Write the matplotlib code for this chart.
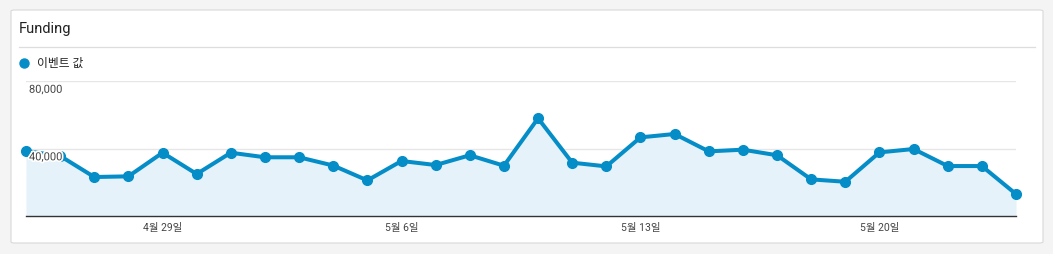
import matplotlib
matplotlib.use("Agg")
import matplotlib.pyplot as plt
import matplotlib.patheffects as pe
from matplotlib.patches import FancyBboxPatch
from matplotlib.lines import Line2D

plt.rcParams['font.family'] = ['Roboto', 'Noto Sans CJK KR', 'DejaVu Sans']

# ---- data ----
title = "Funding"
series_name = "이벤트 값"
values = [38500, 35600, 23100, 23500, 37500, 24900, 37500, 34800, 34800, 29900,
          21100, 32600, 30200, 36000, 29800, 57900, 31600, 29400, 46600, 48600,
          38300, 39300, 36000, 21700, 20300, 37700, 39700, 29600, 29600, 13000]
tick_positions = [4, 11, 18, 25]
tick_labels = ["4월 29일", "5월 6일", "5월 13일", "5월 20일"]
y_ticks = [40000, 80000]
y_tick_labels = ["40,000", "80,000"]

W, H = 1053, 254
fig = plt.figure(figsize=(W / 100, H / 100), dpi=100)
fig.patch.set_facecolor('#f4f4f4')

def fx(px): return px / W
def fy(py): return 1 - py / H

# card
card = FancyBboxPatch((fx(11), fy(243)), fx(1043) - fx(11), fy(10) - fy(243),
                      boxstyle="round,pad=0,rounding_size=0.004",
                      transform=fig.transFigure, facecolor='white',
                      edgecolor='#d9d9d9', linewidth=0.8, zorder=-10)
fig.patches.append(card)

fig.text(fx(19), fy(29), title, fontsize=10.5, color='#222222', va='center', ha='left')
fig.add_artist(Line2D([fx(19), fx(1035)], [fy(47), fy(47)], transform=fig.transFigure,
                      color='#dddddd', linewidth=0.9))
# legend
fig.add_artist(Line2D([fx(24)], [fy(63)], transform=fig.transFigure, marker='o',
                      markersize=6.5, color='#058dc7', linestyle='none'))
fig.text(fx(37), fy(63), series_name, fontsize=8.5, color='#222222', va='center', ha='left')

ax = fig.add_axes([fx(26), fy(216), fx(1016) - fx(26), fy(81) - fy(216)])
ax.set_zorder(5)
ax.set_facecolor('none')
x = list(range(len(values)))
ax.fill_between(x, values, 0, color='#e5f2f9', zorder=1, linewidth=0)
ax.plot(x, values, color='#058dc7', linewidth=2.9, marker='o', markersize=7,
        zorder=3, clip_on=False)
ax.set_xlim(0, len(values) - 1)
ax.set_ylim(0, 80000)

for yt in y_ticks:
    ax.axhline(yt, color='#e6e6e6', linewidth=1, zorder=0.5)
for yt, lab in zip(y_ticks, y_tick_labels):
    ax.text(0.003, yt - 5200, lab, transform=ax.get_yaxis_transform(),
            fontsize=8, color='#444444', ha='left', va='center', zorder=5,
            path_effects=[pe.withStroke(linewidth=2.5, foreground='white')])

for s in ['top', 'right', 'left']:
    ax.spines[s].set_visible(False)
ax.spines['bottom'].set_color('#333333')
ax.spines['bottom'].set_linewidth(1)
ax.set_yticks([])
ax.set_xticks(tick_positions)
ax.set_xticklabels(tick_labels, fontsize=7.5, color='#444444')
ax.tick_params(axis='x', length=0, pad=5)

fig.savefig('out.png', dpi=100, facecolor=fig.get_facecolor())
